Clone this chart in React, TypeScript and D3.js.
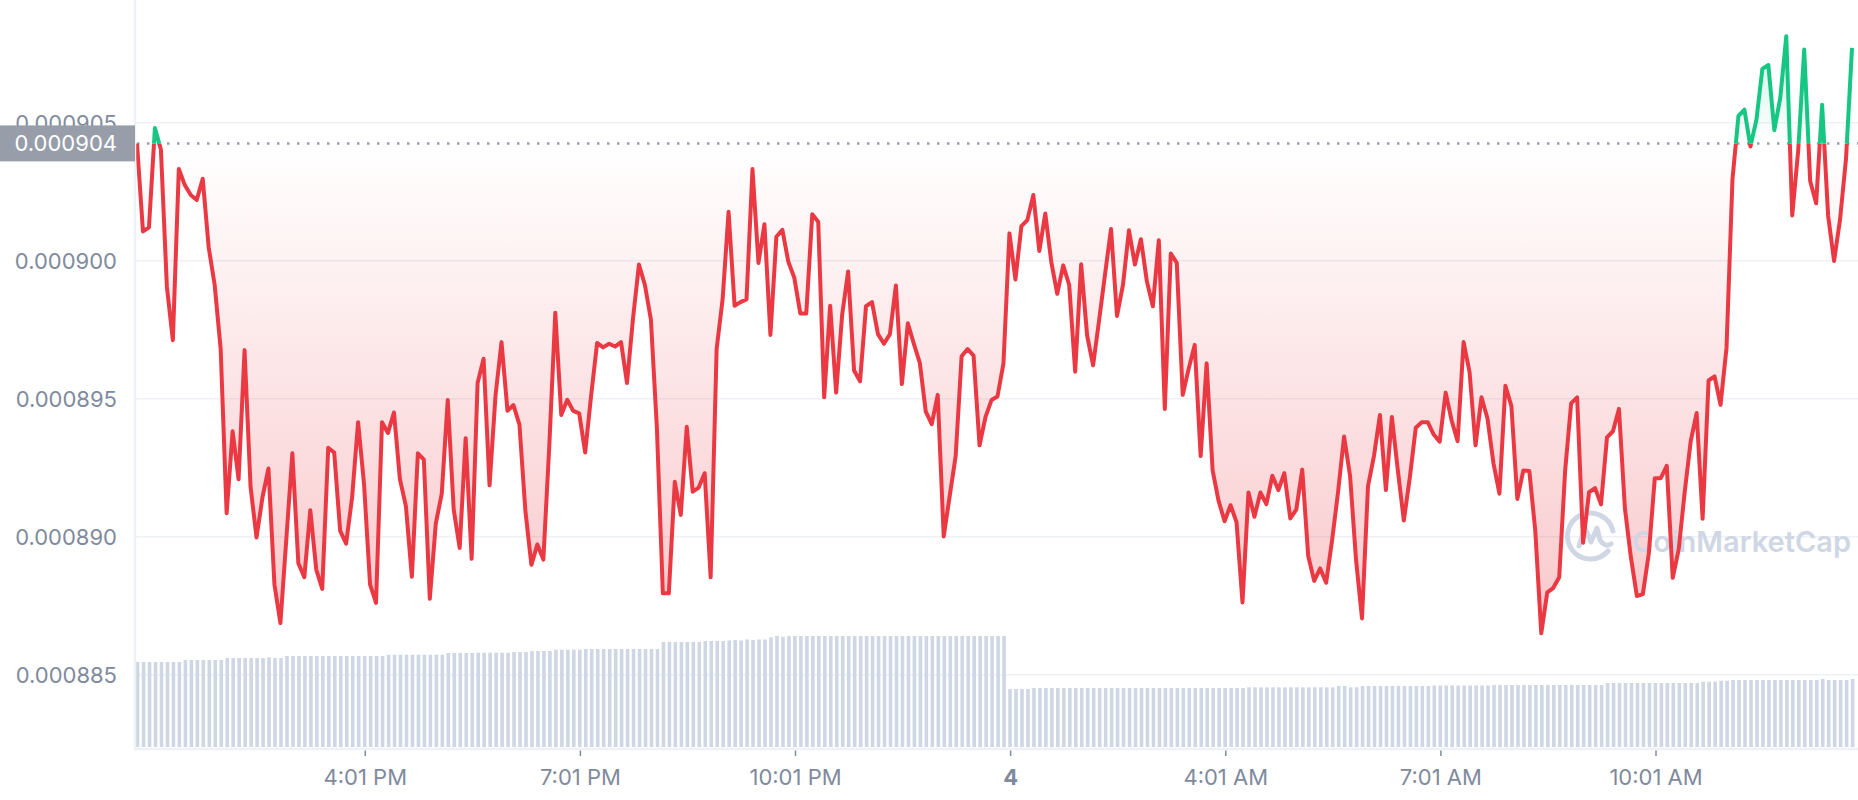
import React from 'react';
import * as d3 from 'd3';

// 5-minute price samples, 24h window
const START_TIME = new Date(2024, 0, 3, 12, 50);
const STEP_MINUTES = 5;

const PRICES = [
  0.00090425, 0.00090106, 0.00090121, 0.00090481, 0.00090403, 0.00089906, 0.00089712, 0.00090332, 0.00090274, 0.00090238, 0.0009022, 0.00090297,
  0.00090048, 0.00089912, 0.0008968, 0.00089085, 0.00089382, 0.00089208, 0.00089676, 0.00089182, 0.00088997, 0.00089143, 0.00089247, 0.00088827,
  0.00088687, 0.00088995, 0.00089302, 0.00088904, 0.00088853, 0.00089096, 0.00088881, 0.00088811, 0.00089322, 0.00089305, 0.00089021, 0.00088975,
  0.00089143, 0.00089415, 0.00089189, 0.00088827, 0.0008876, 0.00089415, 0.00089376, 0.0008945, 0.00089208, 0.00089111, 0.00088855, 0.00089302,
  0.00089279, 0.00088775, 0.00089047, 0.00089156, 0.00089495, 0.00089098, 0.00088959, 0.00089357, 0.0008892, 0.00089557, 0.00089645, 0.00089186,
  0.00089512, 0.00089705, 0.00089456, 0.00089477, 0.00089406, 0.00089092, 0.00088898, 0.00088972, 0.00088917, 0.00089331, 0.00089811, 0.00089441,
  0.00089496, 0.00089456, 0.00089447, 0.00089305, 0.00089512, 0.00089702, 0.00089686, 0.00089699, 0.00089689, 0.00089705, 0.00089557, 0.00089789,
  0.00089986, 0.00089912, 0.00089786, 0.00089395, 0.00088795, 0.00088795, 0.00089199, 0.00089079, 0.00089398, 0.00089163, 0.00089178, 0.0008923,
  0.00088853, 0.0008968, 0.0008986, 0.00090177, 0.00089837, 0.0008985, 0.0008986, 0.00090332, 0.00089992, 0.00090132, 0.00089731, 0.00090087,
  0.00090112, 0.00089996, 0.00089938, 0.00089809, 0.00089809, 0.00090168, 0.00090141, 0.00089505, 0.00089837, 0.00089522, 0.00089802, 0.00089961,
  0.00089602, 0.00089563, 0.00089835, 0.0008985, 0.00089734, 0.00089699, 0.00089734, 0.0008991, 0.00089553, 0.00089773, 0.00089699, 0.0008963,
  0.00089453, 0.00089408, 0.00089514, 0.00089001, 0.00089147, 0.00089292, 0.00089654, 0.0008968, 0.00089656, 0.00089331, 0.00089434, 0.00089495,
  0.00089508, 0.00089628, 0.00090099, 0.00089932, 0.00090125, 0.00090147, 0.00090238, 0.00090035, 0.00090171, 0.00089996, 0.0008988, 0.00089983,
  0.00089912, 0.00089598, 0.00089987, 0.00089729, 0.00089621, 0.00089783, 0.00089951, 0.00090115, 0.000898, 0.00089912, 0.0009011, 0.00089986,
  0.00090078, 0.00089925, 0.00089835, 0.00090074, 0.00089463, 0.00090026, 0.00089992, 0.00089514, 0.00089609, 0.00089695, 0.00089292, 0.00089628,
  0.0008924, 0.0008913, 0.00089056, 0.00089114, 0.00089053, 0.00088762, 0.0008916, 0.00089072, 0.0008916, 0.00089118, 0.00089221, 0.00089169,
  0.0008923, 0.00089066, 0.00089098, 0.00089243, 0.0008893, 0.0008884, 0.00088885, 0.00088833, 0.00088988, 0.00089163, 0.00089363, 0.00089221,
  0.00088917, 0.00088704, 0.00089182, 0.00089292, 0.00089441, 0.00089169, 0.00089434, 0.0008924, 0.00089059, 0.00089214, 0.00089395, 0.00089415,
  0.00089415, 0.0008937, 0.00089344, 0.00089522, 0.00089421, 0.00089346, 0.00089705, 0.00089596, 0.00089331, 0.00089505, 0.00089428, 0.00089266,
  0.00089156, 0.00089547, 0.00089473, 0.00089137, 0.0008924, 0.00089238, 0.00089021, 0.0008865, 0.00088798, 0.00088814, 0.00088853, 0.0008924,
  0.00089483, 0.00089505, 0.00088978, 0.00089161, 0.00089176, 0.00089117, 0.0008936, 0.00089382, 0.00089463, 0.00089102, 0.00088925, 0.00088785,
  0.00088792, 0.0008894, 0.00089212, 0.00089212, 0.00089257, 0.00088851, 0.00088954, 0.00089161, 0.00089345, 0.00089448, 0.00089065, 0.00089566,
  0.00089581, 0.00089478, 0.00089684, 0.00090296, 0.00090525, 0.00090547, 0.00090414, 0.0009051, 0.00090695, 0.00090709, 0.00090473, 0.00090591,
  0.00090813, 0.00090164, 0.000904, 0.00090765, 0.00090289, 0.00090208, 0.00090565, 0.00090164, 0.00089999, 0.00090149, 0.0009037, 0.00090771,
];

// rolling 24h volume per 5-minute bar (relative units)
const VOLUMES = [
  85, 85, 85, 85, 85, 85, 85, 85, 87, 87, 87, 87, 87, 87, 87, 89, 89, 89, 89, 89, 89, 89, 89.7, 89, 89,
  91, 91, 91, 91, 91, 91, 91, 91, 91, 91, 91, 91, 91, 91, 91, 91, 91,
  92.3, 92.3, 92.3, 92.3, 92.3, 92.3, 92.3, 92.3, 92.3, 92.3, 94, 94, 94, 94, 94, 94.3, 94.3, 94.3, 94.3, 94.3, 94.3,
  95, 95, 95, 96, 96, 96, 96, 97.3, 97.3, 97.3, 97.3, 97.3,
  98, 98, 98, 98, 98, 98, 98, 98, 98, 98, 98, 98, 98,
  105, 105, 105, 105, 105, 105, 105, 106, 106, 106, 106, 106.5, 107, 106.5, 107.5, 107, 107.5, 107.5, 109.7, 111, 110.3,
  111, 111, 111, 111, 111, 111, 111, 111, 111, 111, 111, 111, 111, 111, 111, 111, 111, 111, 111, 111, 111, 111, 111, 111, 111,
  111, 111, 111, 111, 111, 111, 111, 111, 111, 111, 111, 111,
  58, 58, 58, 58, 59,
  59, 59, 59, 59, 59, 59, 59, 59, 59, 59, 59, 59, 59, 59, 59, 59, 59, 59, 59, 59, 59, 59, 59, 59, 59, 59, 59, 59, 59, 59, 59, 59, 59, 59, 59,
  59.7, 59.7, 59.7, 59.7, 59.7, 59.7, 59.7, 59.7, 59.7, 59.7, 59.7, 59.7, 59.7, 59.7, 59.7, 61, 61, 59.7, 59.7,
  61, 61, 61, 61, 61, 61, 61, 61, 61, 61, 61, 61, 61.5, 61.5, 61.5, 61.5, 61.5, 61.5, 61.5, 61.5, 61.5, 61.5,
  62, 62, 62, 62, 62, 62, 62, 62, 62, 62, 62, 62, 62, 62, 62, 62, 62, 62, 62,
  64, 64, 64, 64, 64, 64, 64, 64, 64, 64, 64, 64, 64, 64, 64, 64, 65.3, 65.3, 65.3, 66.3, 66.3,
  67, 67, 67, 67, 67, 67, 67, 67, 67, 67, 67, 67, 67, 67, 67, 68, 67, 67, 67, 67, 68,
];

const Y_TICKS = [0.000885, 0.00089, 0.000895, 0.0009, 0.000905];
const X_TICK_TIMES = [
  new Date(2024, 0, 3, 16, 1),
  new Date(2024, 0, 3, 19, 1),
  new Date(2024, 0, 3, 22, 1),
  new Date(2024, 0, 4, 1, 1),
  new Date(2024, 0, 4, 4, 1),
  new Date(2024, 0, 4, 7, 1),
  new Date(2024, 0, 4, 10, 1),
];
const X_TICK_LABELS = ['4:01 PM', '7:01 PM', '10:01 PM', '4', '4:01 AM', '7:01 AM', '10:01 AM'];

const W = 1858;
const H = 800;
const LEFT = 137;
const RIGHT = 1852;
const AXIS_Y = 749;
const RED = '#ea3943';
const GREEN = '#16c784';
const GREY = '#808a9d';
const FONT = 'Inter, "Noto Sans", sans-serif';

const App: React.FC = () => {
  const times = PRICES.map((_, i) => new Date(START_TIME.getTime() + i * STEP_MINUTES * 60000));
  const x = d3.scaleTime().domain([times[0], times[times.length - 1]]).range([LEFT, RIGHT]);
  const y = d3.scaleLinear().domain([0.000885, 0.000905]).range([674.7, 122.7]);
  const vol = d3.scaleLinear().domain([0, d3.max(VOLUMES)!]).range([747, 636]);

  const baseline = PRICES[0];
  const baseY = y(baseline);

  const line = d3
    .line<number>()
    .x((_, i) => x(times[i]))
    .y(d => y(d));
  const area = d3
    .area<number>()
    .x((_, i) => x(times[i]))
    .y0(baseY)
    .y1(d => y(d));

  const linePath = line(PRICES) || '';
  const areaPath = area(PRICES) || '';

  const lx = 1591;
  const ly = 536;

  return (
    <svg
      width={W}
      height={H}
      style={{ position: 'absolute', left: 0, top: 0, background: '#fff' }}
      fontFamily={FONT}
    >
      <defs>
        <clipPath id="below">
          <rect x={0} y={baseY} width={W} height={H - baseY} />
        </clipPath>
        <clipPath id="above">
          <rect x={0} y={0} width={W} height={baseY} />
        </clipPath>
        <linearGradient id="redFill" gradientUnits="userSpaceOnUse" x1={0} y1={baseY} x2={0} y2={640}>
          <stop offset="0" stopColor={RED} stopOpacity={0} />
          <stop offset="1" stopColor={RED} stopOpacity={0.28} />
        </linearGradient>
        <linearGradient id="greenFill" gradientUnits="userSpaceOnUse" x1={0} y1={baseY} x2={0} y2={30}>
          <stop offset="0" stopColor={GREEN} stopOpacity={0} />
          <stop offset="1" stopColor={GREEN} stopOpacity={0.22} />
        </linearGradient>
      </defs>

      {/* grid */}
      {Y_TICKS.map(t => (
        <line key={t} x1={LEFT - 1} x2={W} y1={y(t)} y2={y(t)} stroke="#eef1f6" strokeWidth={1.5} />
      ))}

      {/* volume bars */}
      {VOLUMES.map((v, i) => (
        <rect
          key={i}
          x={x(times[i]) - 1.2}
          y={vol(v)}
          width={3.6}
          height={747 - vol(v)}
          fill="#cfd6e4"
        />
      ))}

      {/* areas */}
      <path d={areaPath} fill="url(#redFill)" clipPath="url(#below)" />
      <path d={areaPath} fill="url(#greenFill)" clipPath="url(#above)" />

      {/* watermark */}
      <g stroke="#cfd6e4" fill="none" strokeWidth={5} strokeLinecap="round" strokeLinejoin="round">
        <path d={`M ${lx + 17} ${ly + 15} A 23 23 0 1 1 ${lx + 22} ${ly - 5}`} />
        <path
          d={`M ${lx - 12} ${ly + 10} L ${lx - 6} ${ly - 8} L ${lx} ${ly + 6} L ${lx + 6} ${ly - 8} L ${lx + 9} ${ly + 4} Q ${lx + 14} ${ly + 12} ${lx + 20} ${ly + 8}`}
        />
      </g>
      <text x={1632} y={552} fontSize={29} fontWeight={600} fill="#cfd6e4">
        CoinMarketCap
      </text>

      {/* baseline */}
      <line x1={LEFT} x2={W} y1={baseY} y2={baseY} stroke="#9aa1ac" strokeWidth={2.5} strokeDasharray="2.5 7.5" />

      {/* price line */}
      <path d={linePath} fill="none" stroke={RED} strokeWidth={4} strokeLinejoin="round" clipPath="url(#below)" />
      <path d={linePath} fill="none" stroke={GREEN} strokeWidth={4} strokeLinejoin="round" clipPath="url(#above)" />

      {/* axes */}
      <line x1={135} x2={135} y1={0} y2={AXIS_Y + 1} stroke="#eef1f6" strokeWidth={2.5} />
      <line x1={134} x2={W} y1={AXIS_Y} y2={AXIS_Y} stroke="#eef1f6" strokeWidth={2.5} />

      {Y_TICKS.map(t => (
        <text key={t} x={117} y={y(t)} textAnchor="end" dominantBaseline="central" fontSize={22} fill={GREY}>
          {t.toFixed(6)}
        </text>
      ))}

      {X_TICK_TIMES.map((t, i) => (
        <g key={i}>
          <line x1={x(t)} x2={x(t)} y1={750.5} y2={756} stroke={GREY} strokeWidth={1.5} />
          <text
            x={x(t)}
            y={777}
            textAnchor="middle"
            dominantBaseline="central"
            fontSize={22}
            fontWeight={X_TICK_LABELS[i] === '4' ? 700 : 400}
            fill={GREY}
          >
            {X_TICK_LABELS[i]}
          </text>
        </g>
      ))}

      {/* current baseline label */}
      <rect x={0} y={baseY - 18} width={135} height={36} fill="#979ea9" />
      <text x={117} y={baseY} textAnchor="end" dominantBaseline="central" fontSize={22} fill="#fff">
        {baseline.toFixed(6)}
      </text>
    </svg>
  );
};

export default App;
